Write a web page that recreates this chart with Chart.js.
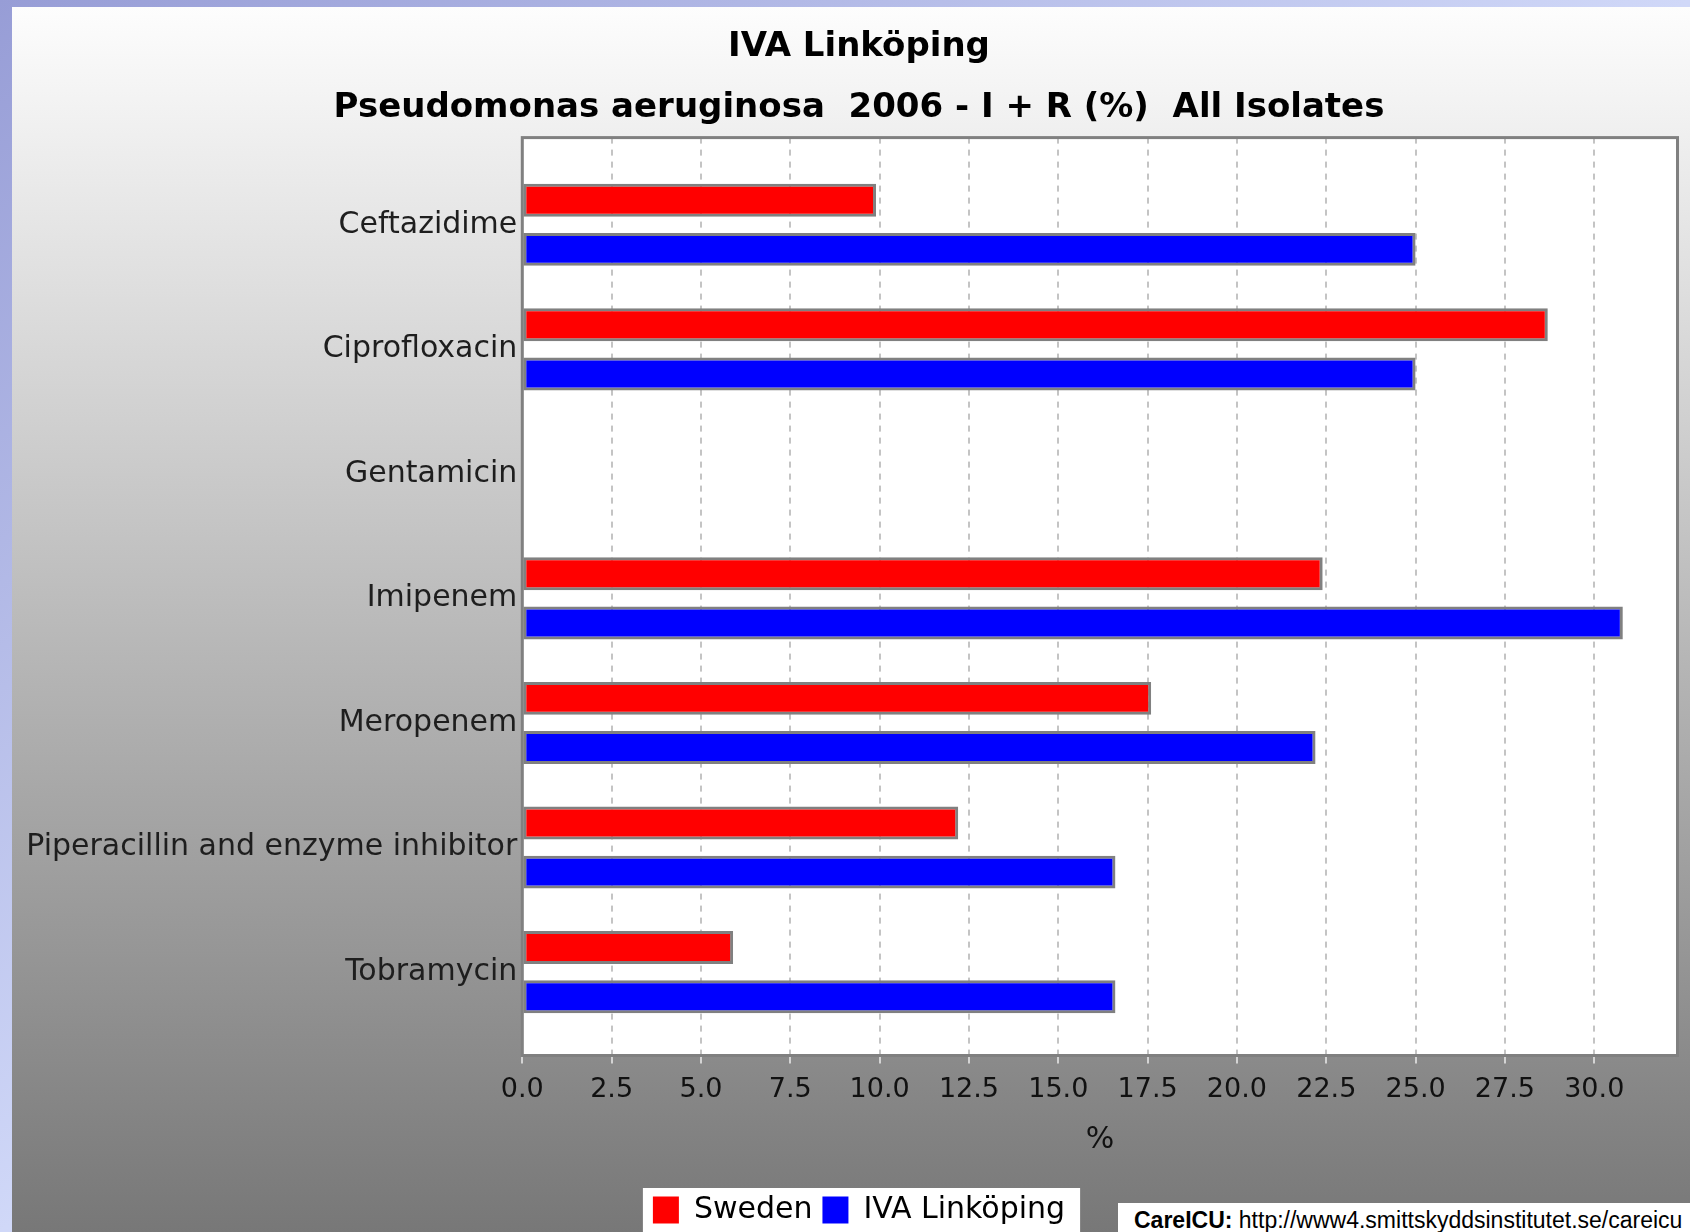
<!DOCTYPE html>
<html>
<head>
<meta charset="utf-8">
<title>IVA Linköping</title>
<script src="https://cdn.jsdelivr.net/npm/chart.js@4.4.1/dist/chart.umd.min.js"></script>
<style>
  html, body { margin: 0; padding: 0; }
  body {
    width: 1690px; height: 1232px; overflow: hidden; position: relative;
    background: linear-gradient(to bottom right, #979dd6 0%, #d0d8f8 50%, #eef2ff 100%);
  }
  #myChart {
    position: absolute; left: 12px; top: 7px;
    background: linear-gradient(to bottom, #fdfdfd, #777777);
  }
  #source {
    position: absolute; left: 1118px; top: 1203px; right: 0; bottom: 0;
    background: #ffffff; overflow: hidden; white-space: nowrap;
    font: 23px "Liberation Sans", Arial, sans-serif; line-height: 26px; color: #000;
    padding: 4px 0 0 16px;
  }
</style>
</head>
<body>
<!-- le graphique d'origine est coupé à droite et en bas : le canvas déborde un peu -->
<canvas id="myChart" width="1694" height="1228"></canvas>
<div id="source"><b>CareICU:</b> http://www4.smittskyddsinstitutet.se/careicu</div>
<script>
// Données
const categories = [
  "Ceftazidime",
  "Ciprofloxacin",
  "Gentamicin",
  "Imipenem",
  "Meropenem",
  "Piperacillin and enzyme inhibitor",
  "Tobramycin",
];
const swedenValues = [9.9, 28.7, 0, 22.4, 17.6, 12.2, 5.9];
const ivaValues = [25.0, 25.0, 0, 30.8, 22.2, 16.6, 16.6];
const seriesLabels = ["Sweden", "IVA Linköping"];
const seriesColors = ["#ff0000", "#0000ff"];

const font = "DejaVu Sans";

// Fond blanc du graphique + boîte blanche de la légende
const plotBackground = {
  id: "plotBackground",
  beforeDraw(chart) {
    const ctx = chart.ctx;
    const area = chart.chartArea;
    ctx.save();
    ctx.fillStyle = "#ffffff";
    ctx.fillRect(area.left, area.top, area.right - area.left, area.bottom - area.top);
    const boxes = chart.legend.legendHitBoxes;
    if (boxes && boxes.length) {
      const first = boxes[0];
      const last = boxes[boxes.length - 1];
      ctx.fillRect(first.left - 10, first.top - 7, last.left + last.width - first.left + 25, chart.height);
    }
    ctx.restore();
  },
};

// Contour gris autour de la zone de tracé
const plotOutline = {
  id: "plotOutline",
  afterDatasetsDraw(chart) {
    const ctx = chart.ctx;
    const area = chart.chartArea;
    ctx.save();
    ctx.strokeStyle = "#808080";
    ctx.lineWidth = 3;
    ctx.strokeRect(area.left, area.top, area.right - area.left, area.bottom - area.top);
    ctx.restore();
  },
};

const toPoints = (values) => values.map((v, i) => ({ x: v, y: i }));

const ctx = document.getElementById("myChart");
const chart = new Chart(ctx, {
  type: "bar",
  data: {
    datasets: [
      {
        label: seriesLabels[0],
        data: toPoints(swedenValues),
        backgroundColor: seriesColors[0],
        borderColor: "#808080",
        borderWidth: 3,
        borderSkipped: false,
      },
      {
        label: seriesLabels[1],
        data: toPoints(ivaValues),
        backgroundColor: seriesColors[1],
        borderColor: "#808080",
        borderWidth: 3,
        borderSkipped: false,
      },
    ],
  },
  options: {
    indexAxis: "y",
    responsive: false,
    animation: false,
    devicePixelRatio: 1,
    categoryPercentage: 0.79,
    barPercentage: 0.67,
    layout: { padding: 0 },
    plugins: {
      title: {
        display: true,
        text: "IVA Linköping",
        color: "#000000",
        font: { family: font, size: 34, weight: "bold" },
        padding: { top: 20, bottom: 10 },
      },
      subtitle: {
        display: true,
        text: "Pseudomonas aeruginosa  2006 - I + R (%)  All Isolates",
        color: "#000000",
        font: { family: font, size: 34, weight: "bold" },
        padding: { top: 10, bottom: 9 },
      },
      legend: {
        position: "bottom",
        labels: {
          boxWidth: 26,
          boxHeight: 27,
          padding: 10,
          color: "#000000",
          font: { family: font, size: 30 },
          generateLabels: (c) =>
            c.data.datasets.map((d, i) => ({
              text: d.label,
              fillStyle: d.backgroundColor,
              strokeStyle: d.backgroundColor,
              lineWidth: 0,
              hidden: false,
              datasetIndex: i,
              fontColor: "#000000",
            })),
        },
      },
      tooltip: { enabled: false },
    },
    scales: {
      x: {
        type: "linear",
        position: "bottom",
        min: 0,
        max: 32.33,
        afterFit: (scale) => {
          scale.height = 129.5;
        },
        ticks: {
          stepSize: 2.5,
          includeBounds: false,
          autoSkip: false,
          maxRotation: 0,
          padding: 10,
          color: "#111111",
          font: { family: font, size: 27 },
          callback: (v) => Number(v).toFixed(1),
        },
        grid: {
          color: "#c4c4c4",
          lineWidth: 2,
          drawTicks: true,
          tickLength: 8,
          tickColor: "#d4d4d4",
          tickWidth: 2,
        },
        border: { display: false, dash: [6, 6] },
        title: {
          display: true,
          text: "%",
          color: "#111111",
          font: { family: font, size: 30 },
          padding: { top: 0, bottom: 26.5 },
        },
      },
      y: {
        type: "linear",
        reverse: true,
        offset: false,
        min: -0.7,
        max: 6.67,
        afterFit: (scale) => {
          scale.width = 510.3;
        },
        afterBuildTicks: (scale) => {
          scale.ticks = categories.map((c, i) => ({ value: i }));
        },
        ticks: {
          autoSkip: false,
          padding: 5,
          color: "#1e1e1e",
          font: { family: font, size: 30 },
          callback: (v) => categories[v],
        },
        grid: { display: false, drawTicks: false },
        border: { display: false },
      },
      // marge droite vide (les titres restent centrés sur toute la largeur)
      yRight: {
        type: "linear",
        position: "right",
        afterFit: (scale) => {
          scale.width = 28.5;
        },
        ticks: { display: false },
        grid: { display: false, drawTicks: false },
        border: { display: false },
      },
    },
  },
  plugins: [plotBackground, plotOutline],
});
</script>
</body>
</html>
